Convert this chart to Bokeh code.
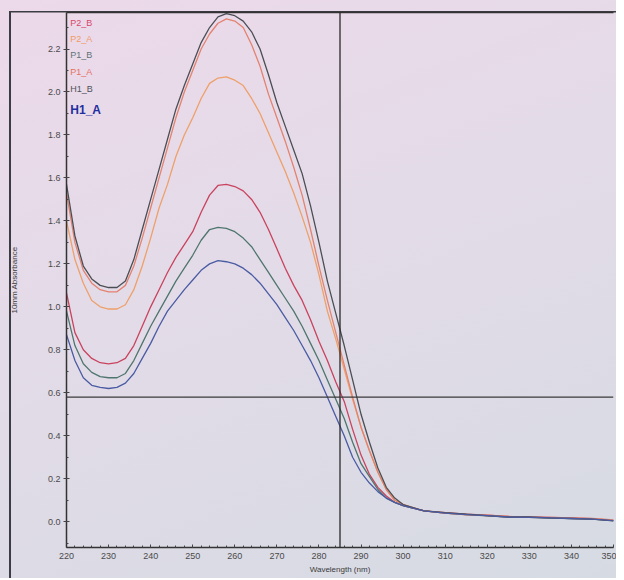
from bokeh.plotting import figure
from bokeh.models import Span, Label, LinearAxis, FixedTicker, Range1d, SingleIntervalTicker, NumeralTickFormatter
from bokeh.embed import file_html
from bokeh.resources import INLINE

# wavelength grid (nm)
wavelength = list(range(220, 301, 2)) + list(range(305, 351, 5))

H1_B = [1.57, 1.33, 1.19, 1.13, 1.10, 1.09, 1.09, 1.12, 1.22, 1.36,
        1.50, 1.64, 1.78, 1.92, 2.03, 2.13, 2.23, 2.30, 2.35, 2.365,
        2.355, 2.33, 2.28, 2.20, 2.08, 1.95, 1.84, 1.73, 1.62, 1.47,
        1.30, 1.12, 0.97, 0.82, 0.66, 0.50, 0.37, 0.25, 0.16, 0.11, 0.08,
        0.05, 0.042, 0.035, 0.028, 0.022, 0.022, 0.018, 0.015, 0.012, 0.004]
P1_A = [1.53, 1.30, 1.17, 1.11, 1.08, 1.07, 1.07, 1.10, 1.19, 1.32,
        1.46, 1.60, 1.74, 1.88, 2.00, 2.10, 2.20, 2.27, 2.32, 2.34,
        2.33, 2.30, 2.22, 2.12, 1.99, 1.88, 1.77, 1.65, 1.52, 1.36,
        1.19, 1.03, 0.88, 0.73, 0.58, 0.44, 0.33, 0.23, 0.15, 0.10, 0.08,
        0.05, 0.04, 0.033, 0.03, 0.025, 0.02, 0.02, 0.018, 0.015, 0.008]
P2_A = [1.40, 1.22, 1.11, 1.03, 1.00, 0.99, 0.99, 1.01, 1.08, 1.19,
        1.32, 1.46, 1.57, 1.70, 1.80, 1.88, 1.97, 2.04, 2.065, 2.07,
        2.055, 2.03, 1.97, 1.90, 1.81, 1.72, 1.63, 1.53, 1.42, 1.30,
        1.15, 0.98, 0.85, 0.71, 0.57, 0.44, 0.33, 0.23, 0.15, 0.10, 0.08,
        0.05, 0.04, 0.032, 0.028, 0.024, 0.02, 0.018, 0.016, 0.013, 0.006]
P2_B = [1.065, 0.88, 0.80, 0.76, 0.74, 0.735, 0.74, 0.76, 0.82, 0.91,
        1.00, 1.08, 1.16, 1.23, 1.29, 1.35, 1.44, 1.52, 1.565, 1.57,
        1.56, 1.54, 1.50, 1.44, 1.36, 1.27, 1.18, 1.10, 1.03, 0.94,
        0.84, 0.75, 0.65, 0.56, 0.43, 0.31, 0.22, 0.16, 0.12, 0.09, 0.075,
        0.05, 0.042, 0.035, 0.03, 0.025, 0.022, 0.02, 0.018, 0.014, 0.006]
P1_B = [0.98, 0.82, 0.735, 0.695, 0.675, 0.67, 0.67, 0.69, 0.75, 0.83,
        0.91, 0.98, 1.05, 1.12, 1.18, 1.24, 1.31, 1.36, 1.37, 1.365,
        1.35, 1.32, 1.28, 1.22, 1.16, 1.10, 1.04, 0.98, 0.91, 0.83,
        0.75, 0.66, 0.57, 0.48, 0.37, 0.27, 0.21, 0.15, 0.11, 0.09, 0.075,
        0.05, 0.04, 0.033, 0.027, 0.022, 0.02, 0.017, 0.015, 0.012, 0.005]
H1_A = [0.87, 0.75, 0.67, 0.635, 0.625, 0.62, 0.625, 0.645, 0.69, 0.76,
        0.83, 0.91, 0.98, 1.03, 1.08, 1.125, 1.17, 1.20, 1.215, 1.21,
        1.20, 1.18, 1.15, 1.11, 1.06, 1.01, 0.95, 0.89, 0.82, 0.75,
        0.67, 0.58, 0.49, 0.40, 0.30, 0.23, 0.18, 0.14, 0.11, 0.09, 0.075,
        0.05, 0.04, 0.033, 0.028, 0.022, 0.02, 0.018, 0.015, 0.012, 0.005]

series_names = ["P2_B", "P2_A", "P1_B", "P1_A", "H1_B", "H1_A"]
series_values = [P2_B, P2_A, P1_B, P1_A, H1_B, H1_A]
line_colors = ["#c9435e", "#eea06a", "#4f766e", "#e3836f", "#4b4f55", "#4a5ba3"]
label_colors = ["#d8486a", "#f09a66", "#5d7474", "#e8705e", "#4e5258", "#1f2fa0"]

cursor_x = 285
cursor_y = 0.58

p = figure(width=616, height=578, x_range=Range1d(220, 350), y_range=Range1d(-0.12, 2.37),
           output_backend="svg", toolbar_location=None,
           min_border_left=66, min_border_right=3, min_border_top=12, min_border_bottom=31)
p.styles = {
    "background": (
        "linear-gradient(#3c3c44, #3c3c44) 9px 11px / 2px calc(100% - 11px) no-repeat, "
        "linear-gradient(#3c3c44, #3c3c44) 9px 11px / calc(100% - 9px) 1.5px no-repeat, "
        "linear-gradient(160deg, #ecd9ea 0%, #e3dbe8 45%, #d6dbe3 100%)"
    )
}
p.background_fill_alpha = 0
p.border_fill_alpha = 0
p.outline_line_color = None
p.grid.visible = False

font = "Liberation Sans"
p.xaxis.ticker = SingleIntervalTicker(interval=10, num_minor_ticks=5)
p.yaxis.ticker = SingleIntervalTicker(interval=0.2, num_minor_ticks=2)
p.yaxis.formatter = NumeralTickFormatter(format="0.0")
for ax in (p.xaxis[0], p.yaxis[0]):
    ax.axis_line_color = "#333333"
    ax.axis_line_width = 1.5
    ax.major_tick_line_color = "#444444"
    ax.minor_tick_line_color = "#444444"
    ax.major_tick_in = 3
    ax.major_tick_out = 3
    ax.minor_tick_in = 2
    ax.minor_tick_out = 0
    ax.major_label_text_font = font
    ax.major_label_text_font_size = "9px"
    ax.major_label_text_color = "#4a4a4a"
    ax.axis_label_text_font = font
    ax.axis_label_text_font_size = "8px"
    ax.axis_label_text_font_style = "normal"
    ax.axis_label_text_color = "#3a3a3a"
p.xaxis.axis_label = "Wavelength (nm)"
p.xaxis.major_tick_out = 0
p.xaxis.major_label_standoff = 5
p.xaxis.axis_label_standoff = 3
p.yaxis.axis_label = "10mm Absorbance"
p.yaxis.major_label_standoff = 3
p.yaxis.axis_label_standoff = 26

top_axis = LinearAxis(ticker=FixedTicker(ticks=[]), major_label_text_font_size="0px",
                      axis_line_color="#333333", axis_line_width=1.5,
                      major_tick_line_color=None, minor_tick_line_color=None)
p.add_layout(top_axis, "above")

for name, vals, col in zip(series_names, series_values, line_colors):
    p.line(wavelength, vals, line_color=col, line_width=1.3)

p.add_layout(Span(location=cursor_x, dimension="height", line_color="#2a2a2a", line_width=1.3))
p.add_layout(Span(location=cursor_y, dimension="width", line_color="#3a3a3a", line_width=1.3))

label_y = [2.32, 2.245, 2.17, 2.095, 2.015, 1.915]
for i, (name, col) in enumerate(zip(series_names, label_colors)):
    bold = name == "H1_A"
    p.add_layout(Label(x=220.9, y=label_y[i], text=name, text_color=col,
                       text_font=font, text_font_size="12px" if bold else "9px",
                       text_font_style="bold" if bold else "normal",
                       text_baseline="middle"))

open("out.html", "w").write(file_html(p, INLINE))
